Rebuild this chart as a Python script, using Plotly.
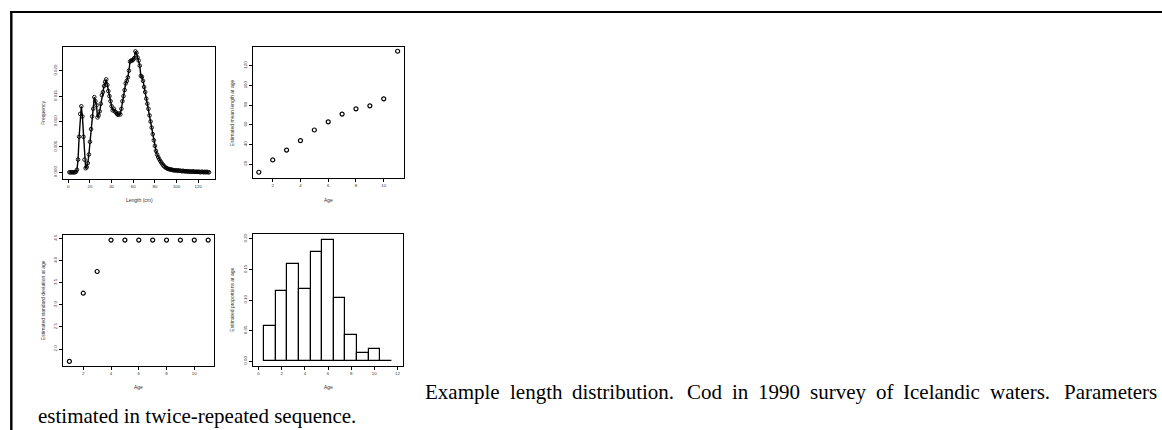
import plotly.graph_objects as go

# ---- data -------------------------------------------------------------
lengths = list(range(1, 131))
freq = [
    0.0000, 0.0000, 0.0000, 0.0000, 0.0000, 0.0000, 0.0001, 0.0005, 0.0025, 0.0070,
    0.0115, 0.0130, 0.0110, 0.0070, 0.0025, 0.0008, 0.0010, 0.0018, 0.0035, 0.0060,
    0.0085, 0.0110, 0.0125, 0.0148, 0.0140, 0.0132, 0.0108, 0.0112, 0.0120, 0.0135,
    0.0152, 0.0158, 0.0170, 0.0178, 0.0183, 0.0172, 0.0160, 0.0150, 0.0140, 0.0130,
    0.0122, 0.0125, 0.0120, 0.0118, 0.0115, 0.0113, 0.0116, 0.0114, 0.0125, 0.0140,
    0.0150, 0.0162, 0.0175, 0.0180, 0.0187, 0.0200, 0.0218, 0.0220, 0.0220, 0.0222,
    0.0225, 0.0238, 0.0235, 0.0226, 0.0220, 0.0210, 0.0190, 0.0188, 0.0180, 0.0168,
    0.0158, 0.0145, 0.0135, 0.0125, 0.0112, 0.0100, 0.0088, 0.0075, 0.0063, 0.0052,
    0.0042, 0.0035, 0.0030, 0.0026, 0.0022, 0.0019, 0.0016, 0.0013, 0.0011, 0.0009,
    0.0008, 0.0007, 0.0006, 0.0006, 0.0005, 0.0005, 0.0004, 0.0004, 0.0004, 0.0003,
    0.0004, 0.0003, 0.0003, 0.0003, 0.0002, 0.0003, 0.0002, 0.0002, 0.0002, 0.0002,
    0.0001, 0.0002, 0.0001, 0.0001, 0.0002, 0.0001, 0.0001, 0.0001, 0.0001, 0.0001,
    0.0001, 0.0000, 0.0001, 0.0001, 0.0000, 0.0001, 0.0000, 0.0001, 0.0000, 0.0000,
]

ages = list(range(1, 12))
mean_length = [11.6, 24.1, 34.2, 43.7, 54.6, 62.9, 70.8, 76.1, 79.2, 86.3, 134.7]
sd_length = [1.72, 3.26, 3.75, 4.46, 4.46, 4.46, 4.46, 4.46, 4.46, 4.46, 4.46]
age_props = [0.058, 0.114, 0.159, 0.118, 0.179, 0.199, 0.103, 0.042, 0.013, 0.020, 0.001]

caption_1 = "Example length distribution.  Cod in 1990 survey of Icelandic waters.  Parameters"
caption_2 = "estimated in twice-repeated sequence."

# ---- page geometry (pixels) ------------------------------------------
W, H = 1162, 430


def px_x(x):
    return x / W


def px_y(y):
    return 1 - y / H


SANS = "Liberation Sans"
SERIF = "Liberation Serif"
TICK_FONT = dict(family=SANS, size=4.4, color="#333")
TITLE_FONT = dict(family=SANS, size=5, color="#333")

fig = go.Figure()


def axis_style(domain, rng, tickvals, ticktext, anchor, is_y):
    d = dict(
        domain=domain,
        anchor=anchor,
        range=rng,
        autorange=False,
        tickmode="array",
        tickvals=tickvals,
        ticktext=ticktext,
        ticks="outside",
        ticklen=3,
        tickwidth=0.8,
        tickcolor="black",
        showline=True,
        linecolor="black",
        linewidth=1,
        mirror=True,
        showgrid=False,
        zeroline=False,
        tickfont=TICK_FONT,
    )
    if is_y:
        d["tickangle"] = -90
    return d


# panel boxes: (left, right, top, bottom) in pixels
boxes = {
    1: (63, 215, 47, 179),
    2: (253, 404, 47, 178),
    3: (63, 214, 235, 366),
    4: (253, 403, 234, 366),
}


def domains(k):
    l, r, t, b = boxes[k]
    return [px_x(l), px_x(r)], [px_y(b), px_y(t)]


# panel 1: length distribution
xd, yd = domains(1)
fig.update_layout(
    xaxis=axis_style(xd, [-4.9, 135.5], [0, 20, 40, 60, 80, 100, 120],
                     ["0", "20", "40", "60", "80", "100", "120"], "y", False),
    yaxis=axis_style(yd, [-0.00132, 0.02467], [0, 0.005, 0.010, 0.015, 0.020],
                     ["0.000", "0.005", "0.010", "0.015", "0.020"], "x", True),
)
fig.add_trace(go.Scatter(
    x=lengths, y=freq, xaxis="x", yaxis="y", mode="lines+markers",
    line=dict(color="black", width=1.4),
    marker=dict(symbol="circle-open", size=3.6, color="black", line=dict(width=0.9)),
))

# panel 2: mean length at age
xd, yd = domains(2)
fig.update_layout(
    xaxis2=axis_style(xd, [0.58, 11.46], [2, 4, 6, 8, 10],
                      ["2", "4", "6", "8", "10"], "y2", False),
    yaxis2=axis_style(yd, [5.76, 139.0], [20, 40, 60, 80, 100, 120],
                      ["20", "40", "60", "80", "100", "120"], "x2", True),
)
fig.add_trace(go.Scatter(
    x=ages, y=mean_length, xaxis="x2", yaxis="y2", mode="markers",
    marker=dict(symbol="circle-open", size=4, color="black", line=dict(width=1.2)),
))

# panel 3: standard deviation at age
xd, yd = domains(3)
fig.update_layout(
    xaxis3=axis_style(xd, [0.54, 11.42], [2, 4, 6, 8, 10],
                      ["2", "4", "6", "8", "10"], "y3", False),
    yaxis3=axis_style(yd, [1.616, 4.575], [2.0, 2.5, 3.0, 3.5, 4.0, 4.5],
                      ["2.0", "2.5", "3.0", "3.5", "4.0", "4.5"], "x3", True),
)
fig.add_trace(go.Scatter(
    x=ages, y=sd_length, xaxis="x3", yaxis="y3", mode="markers",
    marker=dict(symbol="circle-open", size=4, color="black", line=dict(width=1.2)),
))

# panel 4: proportions at age (histogram)
xd, yd = domains(4)
fig.update_layout(
    xaxis4=axis_style(xd, [-0.48, 12.48], [0, 2, 4, 6, 8, 10, 12],
                      ["0", "2", "4", "6", "8", "10", "12"], "y4", False),
    yaxis4=axis_style(yd, [-0.008, 0.208], [0, 0.05, 0.10, 0.15, 0.20],
                      ["0.00", "0.05", "0.10", "0.15", "0.20"], "x4", True),
)
fig.add_trace(go.Bar(
    x=ages, y=age_props, xaxis="x4", yaxis="y4", width=1,
    marker=dict(color="white", line=dict(color="black", width=1.2)),
))

# axis titles
annotations = []
titles = [
    (1, "Length (cm)", "Frequency", 199.5, 42.7),
    (2, "Age", "Estimated mean length at age", 199.5, 231.7),
    (3, "Age", "Estimated standard deviation at age", 387, 42.7),
    (4, "Age", "Estimated proportions at age", 387, 231.7),
]
for k, xt, yt, xt_y, yt_x in titles:
    l, r, t, b = boxes[k]
    annotations.append(dict(
        text=xt, x=px_x((l + r) / 2), y=px_y(xt_y), xref="paper", yref="paper",
        showarrow=False, xanchor="center", yanchor="middle", font=TITLE_FONT))
    annotations.append(dict(
        text=yt, x=px_x(yt_x), y=px_y((t + b) / 2), xref="paper", yref="paper",
        showarrow=False, xanchor="center", yanchor="middle", textangle=-90,
        font=TITLE_FONT))

# ---- caption, first line fully justified between two margins ----------
CAP_SIZE = 21
CAP_FONT = dict(family=SERIF, size=CAP_SIZE, color="black")
# advance widths (1/1000 em) of the serif face for the glyphs used
ADV = {
    "a": 444, "b": 500, "c": 444, "d": 500, "e": 444, "f": 333, "g": 500,
    "h": 500, "i": 278, "l": 278, "m": 778, "n": 500, "o": 500, "p": 500,
    "q": 500, "r": 333, "s": 389, "t": 278, "u": 500, "v": 500, "w": 722,
    "x": 500, "y": 500, "E": 611, "C": 667, "I": 333, "P": 556, ".": 250,
    "-": 333, "0": 500, "1": 500, "9": 500,
}


def text_width(s):
    return sum(ADV.get(ch, 500) for ch in s) * CAP_SIZE / 1000


line_left, line_right = 423, 1155
words = caption_1.split()
widths = [text_width(w) for w in words]
# gaps after a sentence-ending period get a little more room
weights = [1.35 if w.endswith(".") else 1.0 for w in words[:-1]]
gap_unit = (line_right - line_left - sum(widths)) / sum(weights)
x = line_left
for i, w in enumerate(words):
    annotations.append(dict(
        text=w, x=px_x(x), y=px_y(406), xref="paper", yref="paper",
        showarrow=False, xanchor="left", yanchor="bottom", font=CAP_FONT))
    if i < len(weights):
        x += widths[i] + gap_unit * weights[i]

annotations.append(dict(
    text=caption_2, x=px_x(36), y=px_y(430), xref="paper", yref="paper",
    showarrow=False, xanchor="left", yanchor="bottom", font=CAP_FONT))

# frame lines along top and left edge of the page
shapes = [
    dict(type="line", xref="paper", yref="paper", x0=px_x(10), x1=1,
         y0=px_y(12), y1=px_y(12), line=dict(color="black", width=2)),
    dict(type="line", xref="paper", yref="paper", x0=px_x(11.3), x1=px_x(11.3),
         y0=0, y1=px_y(11), line=dict(color="black", width=2.4)),
]

fig.update_layout(
    width=W, height=H,
    margin=dict(l=0, r=0, t=0, b=0),
    paper_bgcolor="white", plot_bgcolor="white",
    showlegend=False,
    annotations=annotations,
    shapes=shapes,
    bargap=0,
)

fig.write_html("out.html", config={"displayModeBar": False})
